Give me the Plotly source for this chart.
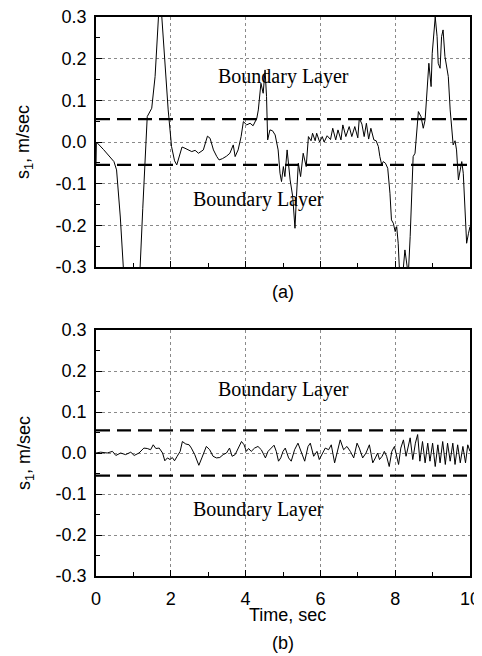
import plotly.graph_objects as go

# ---------------- data ----------------
time_a = [0.0, 0.01, 0.2, 0.37, 0.48, 0.55, 0.65, 0.73, 0.85, 1.05,
          1.18, 1.25, 1.31, 1.37, 1.49, 1.58, 1.67, 1.72, 1.76, 1.85,
          1.93, 2.02, 2.1, 2.16, 2.24, 2.3, 2.38, 2.47, 2.56, 2.65,
          2.74, 2.87, 2.98, 3.05, 3.14, 3.23, 3.29, 3.38, 3.49, 3.58,
          3.67, 3.72, 3.8, 3.88, 3.94, 4.03, 4.12, 4.2, 4.3, 4.34,
          4.41, 4.47, 4.52, 4.56, 4.59, 4.65, 4.72, 4.79, 4.87, 4.92,
          4.96, 5.01, 5.05, 5.11, 5.19, 5.26, 5.32, 5.36, 5.41, 5.47,
          5.54, 5.62, 5.68, 5.75, 5.79, 5.86, 5.9, 5.98, 6.05, 6.1,
          6.18, 6.27, 6.33, 6.41, 6.47, 6.55, 6.6, 6.68, 6.77, 6.84,
          6.92, 7.0, 7.04, 7.11, 7.17, 7.23, 7.29, 7.35, 7.43, 7.49,
          7.55, 7.59, 7.64, 7.68, 7.74, 7.8, 7.86, 7.9, 7.95, 8.0,
          8.04, 8.08, 8.11, 8.16, 8.22, 8.26, 8.31, 8.35, 8.4, 8.44,
          8.48, 8.53, 8.57, 8.62, 8.69, 8.75, 8.8, 8.84, 8.9, 8.96,
          8.99, 9.07, 9.12, 9.15, 9.2, 9.24, 9.28, 9.33, 9.38, 9.42,
          9.47, 9.51, 9.55, 9.6, 9.64, 9.69, 9.73, 9.78, 9.82, 9.87,
          9.91, 9.96, 10.0]
s1_a = [-0.055, 0.0, -0.018, -0.035, -0.047, -0.067, -0.18, -0.3, -0.4, -0.4,
        -0.3, -0.16, -0.059, 0.061, 0.081, 0.157, 0.3, 0.34, 0.3, 0.18,
        0.077, -0.011, -0.045, -0.055, -0.03, -0.012, -0.015, -0.02, -0.023, -0.02,
        -0.027, -0.019, 0.014, 0.009, -0.019, -0.035, -0.043, -0.04, -0.034, -0.027,
        -0.007, -0.035, -0.019, 0.013, 0.049, 0.041, 0.045, 0.039, 0.057, 0.077,
        0.141, 0.117, 0.173, 0.109, 0.005, 0.029, 0.027, 0.017, -0.019, -0.075,
        -0.095, -0.059, -0.083, -0.019, -0.091, -0.131, -0.207, -0.131, -0.051, -0.083,
        -0.027, -0.059, 0.013, 0.003, 0.021, 0.003, 0.021, 0.0, 0.013, 0.0,
        0.015, 0.006, 0.033, 0.005, 0.029, 0.005, 0.041, 0.013, 0.037, 0.013,
        0.037, 0.01, 0.057, 0.043, 0.013, 0.045, 0.007, 0.033, 0.005, 0.003,
        -0.011, -0.035, -0.055, -0.047, -0.051, -0.063, -0.123, -0.187, -0.195, -0.215,
        -0.203, -0.243, -0.3, -0.33, -0.3, -0.259, -0.29, -0.32, -0.227, -0.131,
        -0.035, -0.027, 0.029, 0.073, 0.061, 0.033, 0.053, 0.117, 0.189, 0.133,
        0.213, 0.3, 0.253, 0.189, 0.177, 0.253, 0.269, 0.205, 0.173, 0.157,
        0.077, 0.029, -0.007, 0.003, -0.019, -0.091, -0.067, -0.047, -0.075, -0.163,
        -0.243, -0.219, -0.203]

time_b = [0, 0.125, 0.3, 0.44, 0.53, 0.66, 0.79, 0.93, 1.02, 1.15,
          1.28, 1.37, 1.46, 1.53, 1.6, 1.69, 1.78, 1.84, 1.91, 1.98,
          2.04, 2.1, 2.17, 2.25, 2.31, 2.4, 2.49, 2.55, 2.64, 2.75,
          2.83, 2.95, 3.04, 3.13, 3.22, 3.31, 3.4, 3.49, 3.57, 3.64,
          3.72, 3.81, 3.89, 3.96, 4.02, 4.08, 4.15, 4.24, 4.33, 4.42,
          4.53, 4.6, 4.69, 4.76, 4.82, 4.88, 4.94, 5.0, 5.06, 5.15,
          5.22, 5.31, 5.4, 5.49, 5.58, 5.67, 5.73, 5.82, 5.91, 5.97,
          6.04, 6.13, 6.22, 6.29, 6.38, 6.44, 6.53, 6.62, 6.71, 6.8,
          6.89, 6.98, 7.04, 7.13, 7.22, 7.31, 7.4, 7.47, 7.53, 7.58,
          7.65, 7.71, 7.77, 7.84, 7.91, 7.98, 8.04, 8.09, 8.15, 8.22,
          8.29, 8.35, 8.4, 8.47, 8.54, 8.6, 8.66, 8.73, 8.8, 8.87,
          8.93, 9.0, 9.07, 9.14, 9.2, 9.27, 9.34, 9.4, 9.47, 9.54,
          9.6, 9.67, 9.74, 9.81, 9.88, 9.94, 10.0]
s1_b = [0, 0.002, 0, 0.004, -0.006, 0, -0.004, 0.002, -0.006, 0,
        0.012, 0.011, 0.008, 0.02, 0.011, 0.012, 0, -0.019, -0.012, -0.016,
        -0.011, -0.019, -0.008, 0.004, 0.028, 0.022, 0.02, 0.012, -0.004, -0.03,
        -0.012, 0.016, 0.008, -0.008, -0.012, -0.011, -0.004, 0, 0.012, -0.008,
        -0.004, 0.012, 0.028, 0.02, 0.004, 0.011, 0.004, 0.012, 0.016, 0.008,
        -0.012, 0.004, 0.012, 0.019, 0.004, -0.02, -0.012, 0.004, 0.012, -0.012,
        -0.02, 0.008, 0.024, 0, -0.02, 0.016, 0.024, -0.008, 0.004, -0.016,
        -0.004, 0.012, 0.008, 0.02, -0.024, -0.004, 0.032, 0.008, 0.016, 0.004,
        -0.012, 0.024, 0.012, -0.012, 0, 0.02, -0.024, -0.012, 0.0, -0.016,
        -0.008, 0.004, -0.008, -0.033, 0.004, 0.016, -0.008, -0.028, 0.012, 0.032,
        -0.008, 0.02, 0.037, -0.016, 0.024, 0.045, -0.02, 0.028, -0.024, 0.024,
        -0.02, 0.024, -0.033, 0.02, -0.024, 0.028, -0.028, 0.024, -0.02, 0.024,
        -0.028, 0.02, -0.024, 0.016, -0.024, 0.02, 0.004]

boundary = 0.055
x_range = [0, 10]
y_range = [-0.3, 0.3]
x_ticks = [0, 2, 4, 6, 8, 10]
y_ticks = [-0.3, -0.2, -0.1, 0.0, 0.1, 0.2, 0.3]
y_ticktext = ["-0.3", "-0.2", "-0.1", "0.0", "0.1", "0.2", "0.3"]
label_text = "Boundary Layer"
assert len(time_a) == len(s1_a), (len(time_a), len(s1_a))
assert len(time_b) == len(s1_b), (len(time_b), len(s1_b))

# ---------------- figure ----------------
W, H = 482, 656
OFF = 8  # page body margin offset


def fx(px):
    return (px - OFF) / W


def fy(py):
    return 1 - (py - OFF) / H


fig = go.Figure()

panels = [("x", "y", time_a, s1_a), ("x2", "y2", time_b, s1_b)]
for xa, ya, tt, ss in panels:
    for b in (boundary, -boundary):
        fig.add_trace(go.Scatter(x=x_range, y=[b, b], xaxis=xa, yaxis=ya, mode="lines",
                                 line=dict(color="black", width=2.2, dash="14px,7px"),
                                 showlegend=False, hoverinfo="skip"))
    fig.add_trace(go.Scatter(x=tt, y=ss, xaxis=xa, yaxis=ya, mode="lines",
                             line=dict(color="black", width=1), showlegend=False))

tick_font = dict(family="Liberation Sans, Arial, sans-serif", size=18, color="black")


def xaxis_cfg(domain_y_anchor, show_labels):
    return dict(domain=[fx(96), fx(470)], range=x_range, anchor=domain_y_anchor, automargin=False,
                tickmode="array", tickvals=x_ticks, ticks="inside", ticklen=6, tickwidth=1.2,
                tickcolor="black", ticklabeloverflow="allow",
                minor=dict(ticks="inside", dtick=1, tick0=0, ticklen=4, tickcolor="black", showgrid=False),
                showticklabels=show_labels, tickfont=tick_font, ticklabelstandoff=6,
                showgrid=True, gridcolor="#8a8a8a", griddash="dot", gridwidth=1,
                showline=True, linecolor="black", linewidth=1.6, mirror=True, zeroline=False)


def yaxis_cfg(dom, x_anchor):
    return dict(domain=dom, range=y_range, anchor=x_anchor, automargin=False,
                tickmode="array", tickvals=y_ticks, ticktext=y_ticktext, ticks="inside", ticklen=6,
                tickwidth=1.2, tickcolor="black", ticklabeloverflow="allow",
                minor=dict(ticks="inside", dtick=0.05, tick0=0, ticklen=4, tickcolor="black", showgrid=False),
                tickfont=tick_font, ticklabelstandoff=4,
                showgrid=True, gridcolor="#8a8a8a", griddash="dot", gridwidth=1,
                showline=True, linecolor="black", linewidth=1.8, mirror=True, zeroline=False)


fig.update_layout(
    template="none",
    width=W, height=H, autosize=False,
    margin=dict(l=0, r=0, t=0, b=0, pad=0),
    paper_bgcolor="white", plot_bgcolor="white",
    showlegend=False,
    xaxis=xaxis_cfg("y", False),
    yaxis=yaxis_cfg([fy(267), fy(17)], "x"),
    xaxis2=xaxis_cfg("y2", True),
    yaxis2=yaxis_cfg([fy(576), fy(330)], "x2"),
)

serif = dict(family="Liberation Serif, Times New Roman, serif", size=20, color="black")
sans = dict(family="Liberation Sans, Arial, sans-serif", size=18, color="black")
ann = []
for xr, yr in (("x", "y"), ("x2", "y2")):
    ann.append(dict(x=5.0, y=0.156, xref=xr, yref=yr, text=label_text, showarrow=False, font=serif,
                    xanchor="center", yanchor="middle"))
    ann.append(dict(x=4.35, y=-0.138, xref=xr, yref=yr, text=label_text, showarrow=False, font=serif,
                    xanchor="center", yanchor="middle"))
for ymid in (142, 453):
    ann.append(dict(x=fx(25), y=fy(ymid), xref="paper", yref="paper", text="s<sub>1</sub>, m/sec",
                    textangle=-90, showarrow=False, font=sans, xanchor="center", yanchor="middle"))
for txt, xc, yc in (("(a)", 283, 292), ("(b)", 283, 643), ("Time, sec", 287, 615)):
    ann.append(dict(x=fx(xc), y=fy(yc), xref="paper", yref="paper", text=txt, showarrow=False,
                    font=sans, xanchor="center", yanchor="middle"))
fig.update_layout(annotations=ann)

fig.write_html("out.html")
